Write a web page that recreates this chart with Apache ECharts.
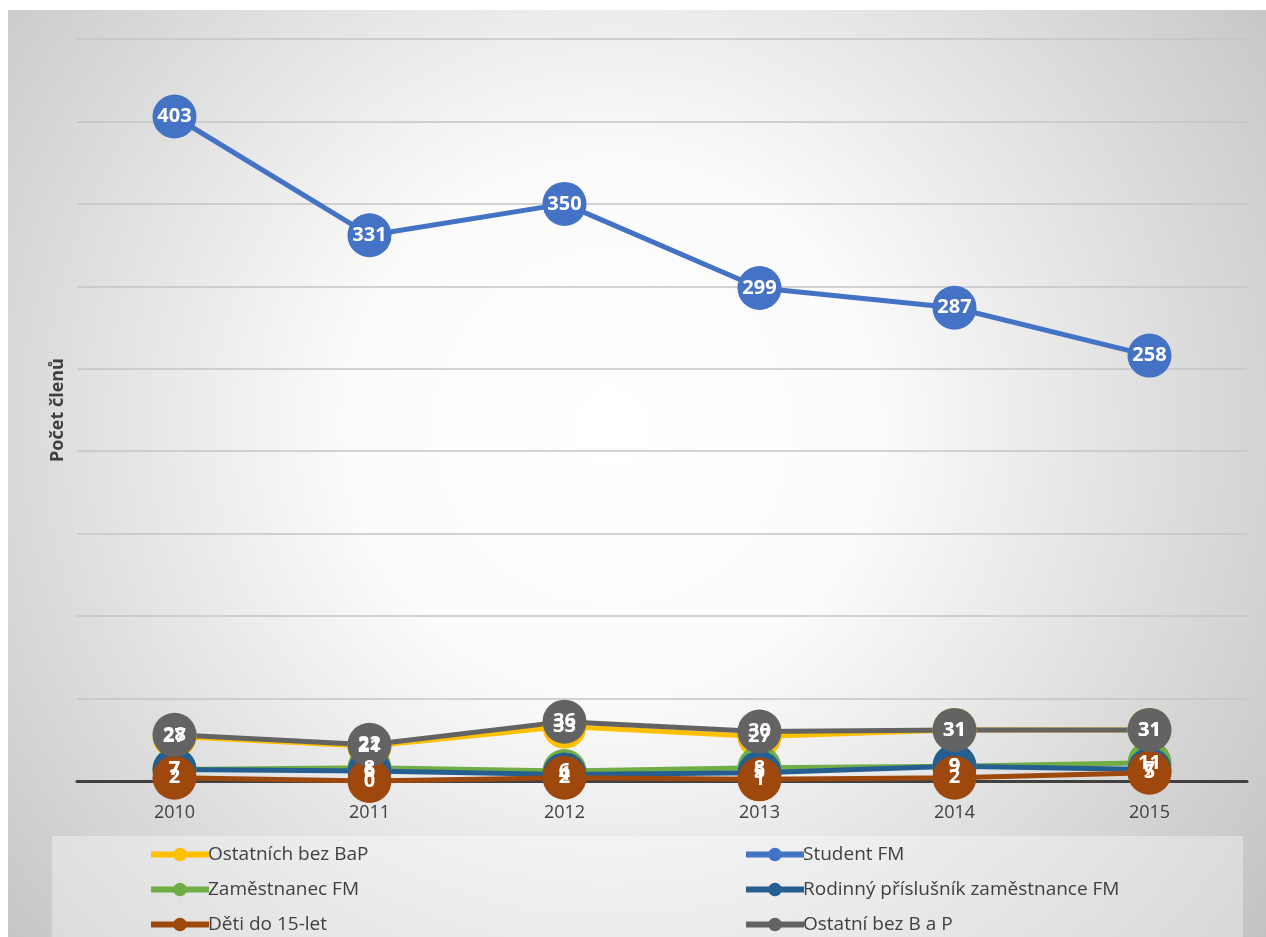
<!DOCTYPE html>
<html>
<head>
<meta charset="utf-8">
<script src="https://cdn.jsdelivr.net/npm/echarts@6/dist/echarts.min.js"></script>
<style>
html,body{margin:0;padding:0;background:#fff;}
#c{width:1266px;height:937px;}
</style>
</head>
<body>
<div id="c"></div>
<script>
var years = ['2010','2011','2012','2013','2014','2015'];
var ostatnichBezBaP = [27, 21, 33, 27, 31, 31];
var studentFM = [403, 331, 350, 299, 287, 258];
var zamestnanecFM = [7, 8, 6, 8, 9, 11];
var rodinnyPrislusnik = [7, 6, 4, 5, 9, 7];
var detiDo15 = [2, 0, 2, 1, 2, 5];
var ostatniBezBaP = [28, 22, 36, 30, 31, 31];
var yTicks = [0, 50, 100, 150, 200, 250, 300, 350, 400, 450];

var names = ['Ostatních bez BaP','Student FM','Zaměstnanec FM','Rodinný příslušník zaměstnance FM','Děti do 15-let','Ostatní bez B a P'];
var colors = ['#FFC000','#4472C4','#70AD47','#255E91','#9E480E','#636363'];
var datas = [ostatnichBezBaP, studentFM, zamestnanecFM, rodinnyPrislusnik, detiDo15, ostatniBezBaP];
var FONT = 'Open Sans, Noto Sans, sans-serif';

var series = names.map(function(n,i){
  return {
    name:n, type:'line', data:datas[i],
    symbol:'circle', symbolSize: 44,
    lineStyle:{width:5,color:colors[i]},
    itemStyle:{color:colors[i]},
    label:{show:true, position:'inside', color:'#fff', fontWeight:'bold', fontSize:20, fontFamily:FONT},
    z: 2,
    animation:false
  };
});

var chart = echarts.init(document.getElementById('c'));
chart.setOption({
  animation:false,
  color: colors,
  graphic:[
    {type:'rect', shape:{x:8,y:10,width:1258,height:927}, z:-10, silent:true,
     style:{fill:{type:'radial', x:0.48, y:0.45, r:0.95, colorStops:[{offset:0,color:'#ffffff'},{offset:0.3,color:'#fbfbfb'},{offset:1,color:'#bdbdbd'}]}}},
    {type:'rect', shape:{x:52,y:836,width:1191,height:101}, z:-9, silent:true,
     style:{fill:'rgba(255,255,255,0.35)'}}
  ],
  grid:{left:77, right:19, top:39, bottom:156},
  xAxis:{type:'category', data:years, boundaryGap:true,
    axisLine:{lineStyle:{color:'#404040',width:3}},
    axisTick:{show:false},
    axisLabel:{color:'#404040', fontSize:18, margin:23, fontFamily:FONT}},
  yAxis:{type:'value', min:yTicks[0], max:yTicks[yTicks.length-1], interval:50,
    name:'Počet členů', nameLocation:'middle', nameRotate:90, nameGap:10,
    nameTextStyle:{color:'#404040', fontSize:18, fontWeight:'bold', fontFamily:FONT},
    axisLabel:{show:false}, axisTick:{show:false}, axisLine:{show:false},
    splitLine:{lineStyle:{color:'#c4c4c4',width:1.5}}},
  legend:[
    {orient:'vertical', left:148, top:845, padding:0, itemGap:16, itemWidth:58, itemHeight:17, height:100,
     data:[names[0],names[2],names[4]], lineStyle:{width:6},
     textStyle:{color:'#404040', fontSize:19, padding:[0,0,0,-6], fontFamily:FONT}},
    {orient:'vertical', left:743, top:845, padding:0, itemGap:16, itemWidth:58, itemHeight:17, height:100,
     data:[names[1],names[3],names[5]], lineStyle:{width:6},
     textStyle:{color:'#404040', fontSize:19, padding:[0,0,0,-6], fontFamily:FONT}}
  ],
  series:series
});
</script>
</body>
</html>
